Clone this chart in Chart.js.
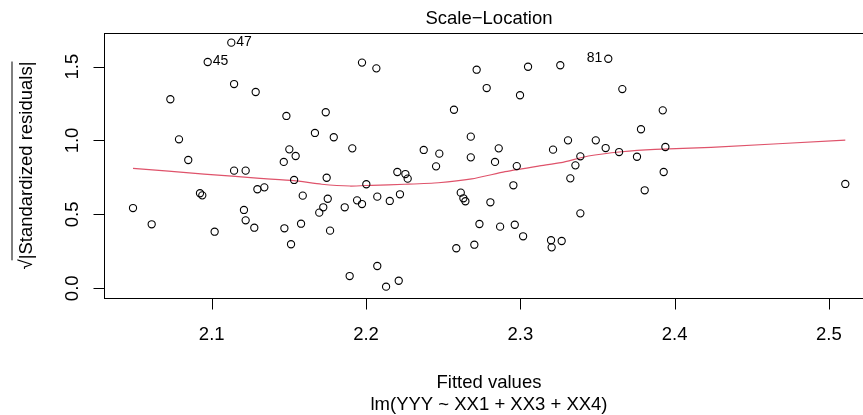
<!DOCTYPE html>
<html>
<head>
<meta charset="utf-8">
<script src="https://cdn.jsdelivr.net/npm/chart.js@4/dist/chart.umd.min.js"></script>
<style>
  html, body { margin: 0; padding: 0; background: #fff; overflow: hidden; }
  #wrap { width: 863px; height: 415px; overflow: hidden; }
</style>
</head>
<body>
<div id="wrap"><canvas id="mycanvas" width="880" height="415"></canvas></div>
<script>
// fitted values and sqrt(|standardized residuals|), first three are the labelled cases
var fitted = [
  2.1127, 2.0974, 2.3570,
  2.1145, 2.1285, 2.0732, 2.0788, 2.0848, 2.1145, 2.1220, 2.1296, 2.1341, 2.0924, 2.0939, 2.0490, 2.1209, 2.0611, 2.1220, 2.1276, 2.1019,
  2.1974, 2.2067, 2.1484, 2.1739, 2.1669, 2.1791, 2.1911, 2.1503, 2.1544, 2.1467, 2.1534, 2.1745, 2.2002, 2.2203, 2.2255, 2.2270, 2.1590,
  2.1752, 2.1723, 2.1697, 2.1862, 2.1942, 2.1974, 2.2073, 2.2154, 2.2220, 2.1471, 2.1579, 2.1514, 2.1767, 2.1894, 2.2073, 2.2130, 2.2212,
  2.2717, 2.3050, 2.3259, 2.2782, 2.2998, 2.2570, 2.2679, 2.2374, 2.2475, 2.2454, 2.2679, 2.2860, 2.2836, 2.2977, 2.3212, 2.2955, 2.2614,
  2.2631, 2.2644, 2.2806, 2.2735, 2.2869, 2.2964, 2.3018, 2.2585, 2.2702, 2.3199, 2.3203, 2.3268,
  2.3661, 2.3923, 2.3782, 2.3309, 2.3489, 2.3553, 2.3640, 2.3756, 2.3940, 2.3389, 2.3357, 2.3324, 2.3929, 2.3806, 2.3389,
  2.5106
];
var sqrtRes = [
  1.662, 1.531, 1.553,
  1.382, 1.328, 1.279, 1.008, 0.868, 0.796, 0.796, 0.670, 0.683, 0.643, 0.629, 0.543, 0.530, 0.433, 0.460, 0.410, 0.383,
  1.527, 1.488, 1.166, 1.191, 1.051, 1.022, 0.947, 0.940, 0.895, 0.855, 0.733, 0.748, 0.704, 0.787, 0.773, 0.742, 0.627,
  0.606, 0.548, 0.512, 0.548, 0.595, 0.570, 0.620, 0.591, 0.636, 0.406, 0.437, 0.298, 0.390, 0.083, 0.151, 0.011, 0.051,
  1.479, 1.499, 1.509, 1.355, 1.306, 1.208, 1.026, 0.936, 0.911, 0.825, 0.886, 0.947, 0.855, 0.827, 0.938, 0.697, 0.647,
  0.609, 0.589, 0.582, 0.435, 0.417, 0.430, 0.352, 0.271, 0.295, 0.325, 0.277, 0.320,
  1.348, 1.204, 1.076, 1.001, 1.001, 0.949, 0.922, 0.890, 0.956, 0.893, 0.832, 0.744, 0.787, 0.663, 0.507,
  0.706
];
var caseLabels = ['47', '45', '81'];

// red smoother
var smoothX = [2.049, 2.095, 2.1313, 2.1533, 2.1713, 2.1896, 2.2037, 2.2253, 2.2469, 2.2685, 2.2901, 2.3117, 2.3264, 2.3441, 2.3657, 2.3873, 2.4236, 2.5106];
var smoothY = [0.812, 0.773, 0.744, 0.728, 0.704, 0.692, 0.697, 0.704, 0.714, 0.740, 0.789, 0.827, 0.850, 0.895, 0.924, 0.940, 0.954, 1.003];

var xTicks = [2.1, 2.2, 2.3, 2.4, 2.5];
var yTicks = [0.0, 0.5, 1.0, 1.5];

var mainTitle = 'Scale\u2212Location';
var xTitle = 'Fitted values';
var subTitle = 'lm(YYY ~ XX1 + XX3 + XX4)';

var points = [];
for (var i in fitted) {
  points.push({x: fitted[i], y: sqrtRes[i]});
}
var smooth = [];
for (var j in smoothX) {
  smooth.push({x: smoothX[j], y: smoothY[j]});
}

var FONT = '"Liberation Sans", Arial, Helvetica, sans-serif';

// draws the R-style box, axes, labels
var rDecor = {
  id: 'rDecor',
  afterDraw: function(chart) {
    var ctx = chart.ctx;
    var a = chart.chartArea;
    var xs = chart.scales.x, ys = chart.scales.y;
    ctx.save();
    ctx.strokeStyle = '#000';
    ctx.fillStyle = '#000';
    ctx.lineWidth = 1;
    ctx.strokeRect(Math.round(a.left) + 0.5, Math.round(a.top) + 0.5,
                   Math.round(a.right - a.left), Math.round(a.bottom - a.top));

    // x axis
    var bot = Math.round(a.bottom) + 0.5;
    ctx.beginPath();
    ctx.moveTo(Math.round(xs.getPixelForValue(xTicks[0])) + 0.5, bot);
    ctx.lineTo(Math.round(xs.getPixelForValue(xTicks[xTicks.length - 1])) + 0.5, bot);
    xTicks.forEach(function(v) {
      var px = Math.round(xs.getPixelForValue(v)) + 0.5;
      ctx.moveTo(px, bot);
      ctx.lineTo(px, bot + 11);
    });
    ctx.stroke();
    ctx.font = '18.5px ' + FONT;
    ctx.textAlign = 'center';
    ctx.textBaseline = 'alphabetic';
    xTicks.forEach(function(v) {
      ctx.fillText(v.toFixed(1), xs.getPixelForValue(v), a.bottom + 41.5);
    });

    // y axis
    var lft = Math.round(a.left) + 0.5;
    ctx.beginPath();
    ctx.moveTo(lft, Math.round(ys.getPixelForValue(yTicks[0])) + 0.5);
    ctx.lineTo(lft, Math.round(ys.getPixelForValue(yTicks[yTicks.length - 1])) + 0.5);
    yTicks.forEach(function(v) {
      var py = Math.round(ys.getPixelForValue(v)) + 0.5;
      ctx.moveTo(lft, py);
      ctx.lineTo(lft - 11, py);
    });
    ctx.stroke();
    yTicks.forEach(function(v) {
      ctx.save();
      ctx.translate(78, ys.getPixelForValue(v));
      ctx.rotate(-Math.PI / 2);
      ctx.fillText(v.toFixed(1), 0, 0);
      ctx.restore();
    });

    // y title with radical and overbar
    ctx.save();
    ctx.translate(31.5, (a.top + a.bottom) / 2);
    ctx.rotate(-Math.PI / 2);
    var s1 = '\u221A', s2 = '|Standardized residuals|';
    var w1 = ctx.measureText(s1).width, w2 = ctx.measureText(s2).width;
    var start = -(w1 + w2) / 2;
    ctx.textAlign = 'left';
    ctx.fillText(s1, start, 0);
    ctx.fillText(s2, start + w1, 0);
    ctx.beginPath();
    ctx.moveTo(start + w1 - 1, -19.5);
    ctx.lineTo(start + w1 + w2, -19.5);
    ctx.stroke();
    ctx.restore();

    // titles
    var cx = (a.left + a.right) / 2;
    ctx.textAlign = 'center';
    ctx.fillText(mainTitle, cx, 24);
    ctx.fillText(xTitle, cx, a.bottom + 90);
    ctx.fillText(subTitle, cx, a.bottom + 111.5);

    // case labels
    var meta = chart.getDatasetMeta(0);
    ctx.font = '14px ' + FONT;
    ctx.textBaseline = 'middle';
    caseLabels.forEach(function(lab, k) {
      var el = meta.data[k];
      if (lab === '81') {
        ctx.textAlign = 'right';
        ctx.fillText(lab, el.x - 6, el.y - 1);
      } else {
        ctx.textAlign = 'left';
        ctx.fillText(lab, el.x + 5, el.y - 1);
      }
    });
    ctx.restore();
  }
};

var ctx = document.getElementById('mycanvas');
var chart = new Chart(ctx, {
  type: 'scatter',
  data: {
    datasets: [
      {
        label: 'residuals',
        data: points,
        pointStyle: 'circle',
        pointRadius: 3.6,
        pointBorderWidth: 1.1,
        pointBorderColor: '#000',
        pointBackgroundColor: 'rgba(0,0,0,0)',
        showLine: false
      },
      {
        label: 'smooth',
        data: smooth,
        showLine: true,
        borderColor: '#DF536B',
        borderWidth: 1.2,
        pointRadius: 0,
        tension: 0.2,
        fill: false
      }
    ]
  },
  options: {
    responsive: false,
    animation: false,
    events: [],
    layout: { padding: { left: 104, right: 6, top: 33, bottom: 117 } },
    plugins: { legend: { display: false }, tooltip: { enabled: false }, title: { display: false } },
    scales: {
      x: { type: 'linear', display: false, min: 2.0302, max: 2.5292 },
      y: { type: 'linear', display: false, min: -0.0656, max: 1.7273 }
    }
  },
  plugins: [rDecor]
});
</script>
</body>
</html>
